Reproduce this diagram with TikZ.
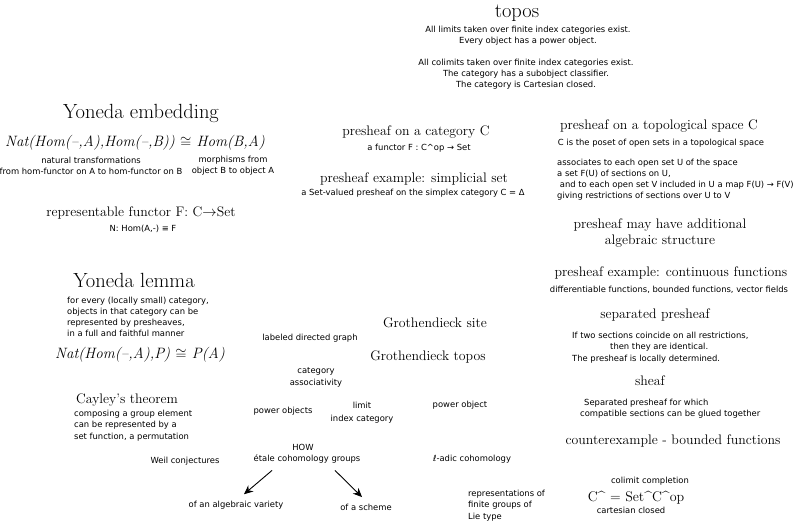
\documentclass[tikz,border=0pt]{standalone}
\usepackage{fontspec}
\newfontfamily\dvsans{DejaVu Sans}
\usepackage{tikz}
\usetikzlibrary{arrows.meta}

\begin{document}
\begin{tikzpicture}[
    x=1pt, y=-1pt,
    every node/.style={inner sep=0pt},
    bighead/.style={font=\fontsize{20.5}{22}\selectfont},
    head/.style={font=\fontsize{13.8}{16}\selectfont, align=center},
    note/.style={font=\dvsans\fontsize{8.4}{11.2}\selectfont, align=center},
    lnote/.style={note, align=left, anchor=west},
    formula/.style={font=\itshape\fontsize{15}{18}\selectfont},
    arr/.style={-{Stealth[length=9pt,width=8pt]}, line width=0.9pt}
  ]
    \useasboundingbox (0,0) rectangle (800,522);

    % topos
    \node[bighead] (topos) at (517,13) {topos};
    \node[note] (tlim) at (528,36) {All limits taken over finite index categories exist.\\Every object has a power object.};
    \node[note] (tcolim) at (526,74) {All colimits taken over finite index categories exist.\\The category has a subobject classifier.\\The category is Cartesian closed.};

    % Yoneda embedding
    \node[bighead] (yemb) at (141,113) {Yoneda embedding};
    \node[formula] (yembf) at (135,143) {Nat(Hom(--,A),Hom(--,B))\/ $\cong$ Hom(B,A)};
    \node[note] (natt) at (91,165.5) {natural transformations\\from hom-functor on A to hom-functor on B};
    \node[note] (morph) at (233,165.5) {morphisms from\\object B to object A};
    \node[head] (repf) at (141,213) {representable functor F: C$\rightarrow$Set};
    \node[note] (repn) at (143,229) {N: Hom(A,-) ≡ F};

    % presheaves
    \node[head] (pcat) at (416,132) {presheaf on a category C};
    \node[note] (pcatn) at (419,148) {a functor F : C\textasciicircum op → Set};
    \node[head] (psimp) at (414,179) {presheaf example: simplicial set};
    \node[note] (psimpn) at (413,193) {a Set-valued presheaf on the simplex category C = Δ};
    \node[head] (ptop) at (659,126) {presheaf on a topological space C};
    \node[note] (ptopn) at (661,143) {C is the poset of open sets in a topological space};
    \node[lnote] (passoc) at (557,179.5) {associates to each open set U of the space\\a set F(U) of sections on U,\\\ and to each open set V included in U a map F(U) → F(V)\\giving restrictions of sections over U to V};
    \node[head] (palg) at (660,233) {presheaf may have additional\\algebraic structure};
    \node[head] (pcont) at (671,273) {presheaf example: continuous functions};
    \node[note] (pcontn) at (669,290) {differentiable functions, bounded functions, vector fields};
    \node[head] (psep) at (655,315) {separated presheaf};
    \node[lnote] (psepn) at (572,347.5) {If two sections coincide on all restrictions,\\\hspace*{38pt}then they are identical.\\The presheaf is locally determined.};
    \node[head] (sheaf) at (650,381) {sheaf};
    \node[lnote] (sheafn) at (580,409) {\hspace*{4pt}Separated presheaf for which\\compatible sections can be glued together};
    \node[head] (counter) at (673,441) {counterexample - bounded functions};

    % Yoneda lemma
    \node[bighead] (ylem) at (134,280) {Yoneda lemma};
    \node[lnote] (ylemn) at (67,317) {for every (locally small) category,\\objects in that category can be\\represented by presheaves,\\in a full and faithful manner};
    \node[formula] (ylemf) at (140,355) {Nat(Hom(--,A),P)\/ $\cong$ P(A)};

    % Cayley
    \node[head] (cayley) at (127,400) {Cayley's theorem};
    \node[lnote] (cayleyn) at (74,425.5) {composing a group element\\can be represented by a\\set function, a permutation};

    % Grothendieck
    \node[head] (gsite) at (435,323) {Grothendieck site};
    \node[head] (gtopos) at (428,357) {Grothendieck topos};
    \node[note] (ldg) at (310,338) {labeled directed graph};
    \node[note] (cat) at (316,377.5) {category\\associativity};
    \node[note] (pobjs) at (283,411) {power objects};
    \node[note] (limit) at (362,413) {limit\\[2pt]index category};
    \node[note] (pobj) at (460,405) {power object};

    % cohomology
    \node[note] (weil) at (185,461) {Weil conjectures};
    \node[note] (how) at (303,447) {HOW};
    \node[note] (etale) at (307,459) {étale cohomology groups};
    \node[note] (variety) at (236,505) {of an algebraic variety};
    \node[note] (scheme) at (366,507) {of a scheme};
    \node[note] (ladic) at (472,459) {ℓ-adic cohomology};
    \node[lnote] (lie) at (468,505.5) {representations of\\finite groups of\\Lie type};

    % presheaf category
    \node[note] (colim) at (650,481) {colimit completion};
    \node[font=\fontsize{14}{16}\selectfont] (chat) at (636,498) {C\textasciicircum{} = Set\textasciicircum C\textasciicircum op};
    \node[note] (cclosed) at (631,510) {cartesian closed};

    \draw[arr] ([xshift=-35pt,yshift=-7pt]etale.south) -- ([xshift=8pt,yshift=6.5pt]variety.north);
    \draw[arr] ([xshift=28pt,yshift=-7pt]etale.south) -- ([xshift=-4pt,yshift=6.5pt]scheme.north);
  \end{tikzpicture}
\end{document}
